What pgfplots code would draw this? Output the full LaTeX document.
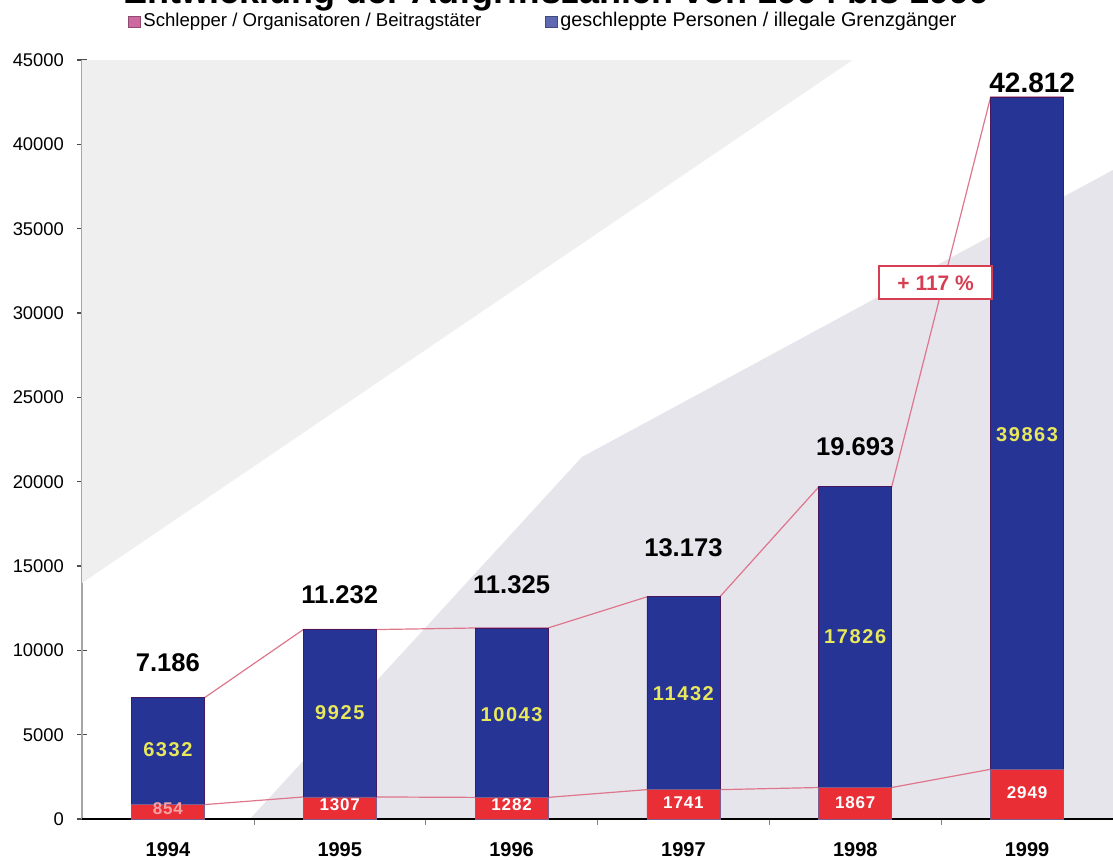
\documentclass[border=0pt]{standalone}
\usepackage{pgfplots}
\pgfplotsset{compat=1.18}
\usepackage{pgfplotstable}
\usepackage{fontspec}
\setmainfont{Liberation Sans}
\newfontfamily\spacedA[LetterSpace=8]{Liberation Sans}
\newfontfamily\spacedB[LetterSpace=5]{Liberation Sans}

\definecolor{barblue}{RGB}{38,52,150}
\definecolor{barred}{RGB}{234,46,54}
\definecolor{edgedark}{RGB}{70,25,95}
\definecolor{pinkline}{RGB}{222,118,140}
\definecolor{bgA}{RGB}{239,239,239}
\definecolor{bgB}{RGB}{230,229,235}
\definecolor{numyellow}{RGB}{232,232,92}
\definecolor{boxred}{RGB}{214,62,82}
\definecolor{legpink}{RGB}{205,105,160}
\definecolor{legblue}{RGB}{95,105,178}

\tikzset{
  total/.style={font=\bfseries\fontsize{12.8}{14}\selectfont,inner sep=0pt},
  inblue/.style={text=numyellow,inner sep=0pt,font=\spacedA\bfseries\fontsize{10}{11}\selectfont},
  inred/.style={text=white,inner sep=0pt,font=\spacedB\bfseries\fontsize{8.5}{9}\selectfont}
}

% Schlepper (s) und geschleppte Personen (g) je Jahr
\pgfplotstableread{
x s g
0 854 6332
1 1307 9925
2 1282 10043
3 1741 11432
4 1867 17826
5 2949 39863
}\aufgriffe

\begin{document}
\begin{tikzpicture}
\useasboundingbox (0,0) rectangle (556.5pt,429.5pt);
\pgfplotsset{frame/.style={at={(41pt,20pt)},anchor=south west,scale only axis,
  width=515.5pt,height=379.5pt,xmin=-0.5,xmax=5.5,ymin=0,ymax=45000,clip=false}}

% background, connector lines, y axis
\begin{axis}[frame,
  axis x line=none, axis y line=left, axis line style={-},
  y axis line style={gray!70,line width=0.6pt},
  ytick={0,5000,...,45000}, scaled y ticks=false,
  ytick style={gray!60!black,line width=0.6pt},
  tick align=center, major tick length=5pt,
  yticklabel style={font=\fontsize{9.2}{10}\selectfont,xshift=-3pt,
    /pgf/number format/1000 sep={},/pgf/number format/assume math mode=true}]
  \fill[bgA] (axis cs:-0.5,45000) -- (axis cs:-0.5,13990) -- (axis cs:3.985,45000) -- cycle;
  \fill[bgB] (axis cs:0.477,0) -- (axis cs:2.409,21460) -- (axis cs:5.5,38480) -- (axis cs:5.5,0) -- cycle;
  \addplot[pinkline,line width=0.6pt] coordinates {
    (-0.212,7186) (0.212,7186) (0.788,11232) (1.212,11232) (1.788,11325) (2.212,11325)
    (2.788,13173) (3.212,13173) (3.788,19693) (4.212,19693) (4.788,42812) (5.212,42812)};
  \addplot[pinkline,line width=0.6pt] coordinates {
    (-0.212,854) (0.212,854) (0.788,1307) (1.212,1307) (1.788,1282) (2.212,1282)
    (2.788,1741) (3.212,1741) (3.788,1867) (4.212,1867) (4.788,2949) (5.212,2949)};
\end{axis}

% bars and x axis
\begin{axis}[frame,
  ybar stacked, bar width=36.5pt,
  axis x line=bottom, axis y line=none, axis line style={-},
  x axis line style={black,line width=0.9pt},
  xtick={0,...,5}, xticklabels={1994,1995,1996,1997,1998,1999},
  xticklabel style={font=\bfseries\fontsize{10}{12}\selectfont,yshift=-8pt},
  major tick length=0pt, minor xtick={0.5,1.5,2.5,3.5,4.5},
  minor tick length=3pt, tick align=outside]
  \addplot[fill=barred,draw=edgedark!70,line width=0.4pt] table[x=x,y=s]{\aufgriffe};
  \addplot[fill=barblue,draw=edgedark,line width=0.4pt] table[x=x,y=g]{\aufgriffe};
\end{axis}

% labels on top of the bars
\begin{axis}[frame, hide axis]
  % totals
  \node[total] at (axis cs:0,9250) {7.186};
  \node[total] at (axis cs:1,13280) {11.232};
  \node[total] at (axis cs:2,13870) {11.325};
  \node[total] at (axis cs:3,16070) {13.173};
  \node[total] at (axis cs:4,22055) {19.693};
  \node[total,font=\bfseries\fontsize{14}{16}\selectfont] at (axis cs:5.03,43640) {42.812};
  % values of the blue segments
  \node[inblue] at (axis cs:0,4090) {6332};
  \node[inblue] at (axis cs:1,6285) {9925};
  \node[inblue] at (axis cs:2,6165) {10043};
  \node[inblue] at (axis cs:3,7410) {11432};
  \node[inblue] at (axis cs:4,10790) {17826};
  \node[inblue] at (axis cs:5,22770) {39863};
  % values of the red segments
  \node[inred,text=white!55!barred] at (axis cs:0,600) {854};
  \node[inred] at (axis cs:1,830) {1307};
  \node[inred] at (axis cs:2,830) {1282};
  \node[inred] at (axis cs:3,950) {1741};
  \node[inred] at (axis cs:4,950) {1867};
  \node[inred] at (axis cs:5,1540) {2949};
  \node[draw=boxred,line width=1pt,fill=white,text=boxred,minimum width=56.5pt,
    minimum height=16.5pt,inner sep=0pt,font=\bfseries\fontsize{10.5}{12}\selectfont]
    at (axis cs:4.468,31780) {+ 117 \%};
\end{axis}

% title, cut at the top edge as in the scan
\node[anchor=base west,inner sep=0pt,font=\bfseries\fontsize{18}{20}\selectfont]
  at (61.5pt,427.5pt) {Entwicklung der Aufgriffszahlen von 1994 bis 1999};
% legend
\filldraw[fill=legpink,draw=legpink!70!black,line width=0.3pt] (64pt,416pt) rectangle (70pt,421.5pt);
\node[anchor=base west,inner sep=0pt,font=\fontsize{9.3}{10}\selectfont]
  at (71.5pt,416pt) {Schlepper / Organisatoren / Beitragstäter};
\filldraw[fill=legblue,draw=legblue!70!black,line width=0.3pt] (272.5pt,416pt) rectangle (278.5pt,421.5pt);
\node[anchor=base west,inner sep=0pt,font=\fontsize{9.9}{10}\selectfont]
  at (280pt,416pt) {geschleppte Personen / illegale Grenzgänger};
\end{tikzpicture}
\end{document}
